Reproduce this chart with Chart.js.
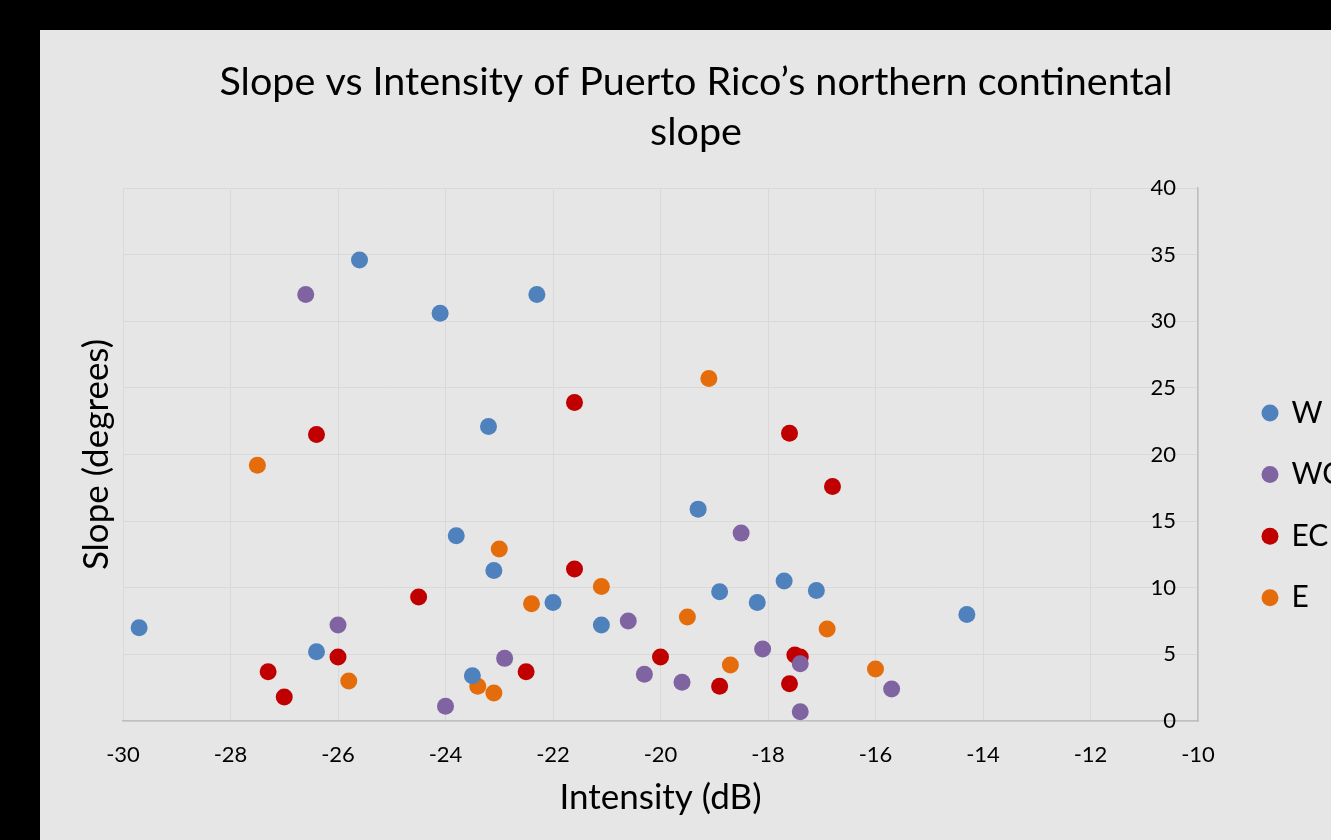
<!DOCTYPE html>
<html>
<head>
<meta charset="utf-8">
<script src="https://cdn.jsdelivr.net/npm/chart.js@4"></script>
<style>
  html, body { margin: 0; padding: 0; background: #000; overflow: hidden; width: 1331px; height: 840px; }
  #panel { position: absolute; left: 40px; top: 30px; width: 1312px; height: 810px; background: #e6e6e6; }
  #c { display: block; }
</style>
</head>
<body>
<div id="panel"><canvas id="c" width="1312" height="810"></canvas></div>
<script>
// ---- data ----
const seriesNames = ['W', 'WC', 'EC', 'E'];
const wX  = [-29.7, -26.4, -25.6, -24.1, -23.8, -23.5, -23.2, -23.1, -22.3, -22.0, -21.1, -19.3, -18.9, -18.2, -17.7, -17.1, -14.3];
const wY  = [7.0, 5.2, 34.6, 30.6, 13.9, 3.4, 22.1, 11.3, 32.0, 8.9, 7.2, 15.9, 9.7, 8.9, 10.5, 9.8, 8.0];
const wcX = [-26.6, -26.0, -24.0, -22.9, -20.6, -20.3, -19.6, -18.5, -18.1, -17.4, -17.4, -15.7];
const wcY = [32.0, 7.2, 1.1, 4.7, 7.5, 3.5, 2.9, 14.1, 5.4, 4.3, 0.7, 2.4];
const ecX = [-27.3, -27.0, -26.4, -26.0, -24.5, -22.5, -21.6, -21.6, -20.0, -18.9, -17.6, -17.6, -17.5, -17.4, -16.8];
const ecY = [3.7, 1.8, 21.5, 4.8, 9.3, 3.7, 23.9, 11.4, 4.8, 2.6, 21.6, 2.8, 4.95, 4.8, 17.6];
const eX  = [-27.5, -25.8, -23.4, -23.1, -23.0, -22.4, -21.1, -19.5, -19.1, -18.7, -16.9, -16.0];
const eY  = [19.2, 3.0, 2.6, 2.1, 12.9, 8.8, 10.1, 7.8, 25.7, 4.2, 6.9, 3.9];
const titleLines = ['Slope vs Intensity of Puerto Rico\u2019s northern continental', 'slope'];
const xTitle = 'Intensity (dB)';
const yTitle = 'Slope (degrees)';
const xMin = -30, xMax = -10, xStep = 2;
const yMin = 0, yMax = 40, yStep = 5;

// ---- styling ----
const colors = ['#4f81bd', '#8064a2', '#c00000', '#e46c0a'];
const FONT = 'Lato';
const GRID = '#d9d9d9';
const AXIS = '#bfbfbf';

function pts(xs, ys) { return xs.map((x, i) => ({ x: x, y: ys[i] })); }
const allX = [wX, wcX, ecX, eX];
const allY = [wY, wcY, ecY, eY];

const datasets = seriesNames.map((name, i) => ({
  label: name,
  data: pts(allX[i], allY[i]),
  backgroundColor: colors[i],
  borderColor: colors[i],
  borderWidth: 0,
  pointRadius: 8.5,
  pointStyle: 'circle',
  yAxisID: 'y'
}));

const legendPlacer = {
  id: 'legendPlacer',
  afterLayout(chart) {
    const lg = chart.legend;
    if (!lg) return;
    const w = lg.width, h = lg.height;
    lg.left = 1191.9; lg.top = 336.4;
    lg.right = lg.left + w + 100; lg.bottom = lg.top + h;
    lg.width = w + 100;
  }
};

new Chart(document.getElementById('c'), {
  type: 'scatter',
  data: { datasets: datasets },
  plugins: [legendPlacer],
  options: {
    responsive: false,
    animation: false,
    events: [],
    layout: { padding: 0 },
    plugins: {
      tooltip: { enabled: false },
      title: {
        display: true,
        text: titleLines,
        color: '#000',
        font: { family: FONT, size: 39.5, weight: 'normal', lineHeight: '50px' },
        padding: { top: 27, bottom: 31 }
      },
      legend: {
        display: true,
        position: 'chartArea',
        align: 'start',
        labels: {
          usePointStyle: true,
          boxWidth: 13,
          boxHeight: 12,
          padding: 31.6,
          color: '#000',
          font: { family: FONT, size: 30, lineHeight: 1 }
        }
      }
    },
    scales: {
      x: {
        type: 'linear',
        position: 'bottom',
        min: xMin, max: xMax,
        afterFit(scale) { scale.height = 119; },
        ticks: { stepSize: xStep, color: '#000', padding: 21, font: { family: FONT, size: 22 } },
        grid: { color: GRID, drawTicks: false },
        border: { color: AXIS, width: 1.5 },
        title: {
          display: true, text: xTitle, color: '#000',
          font: { family: FONT, size: 35, lineHeight: 1.2 },
          padding: { top: 0, bottom: 21 }
        }
      },
      yT: {
        type: 'linear',
        position: 'left',
        min: yMin, max: yMax,
        afterFit(scale) { scale.width = 83; },
        ticks: { display: false },
        grid: { display: false },
        border: { display: false },
        title: {
          display: true, text: yTitle, color: '#000',
          font: { family: FONT, size: 35, lineHeight: 1.2 },
          padding: { top: 36, bottom: 0 }
        }
      },
      y: {
        type: 'linear',
        position: 'right',
        min: yMin, max: yMax,
        afterFit(scale) { scale.width = 154; },
        ticks: { stepSize: yStep, mirror: true, color: '#000', padding: -22, font: { family: FONT, size: 22 } },
        grid: { color: GRID, drawTicks: false },
        border: { color: AXIS, width: 1.5 }
      }
    }
  }
});
</script>
</body>
</html>
